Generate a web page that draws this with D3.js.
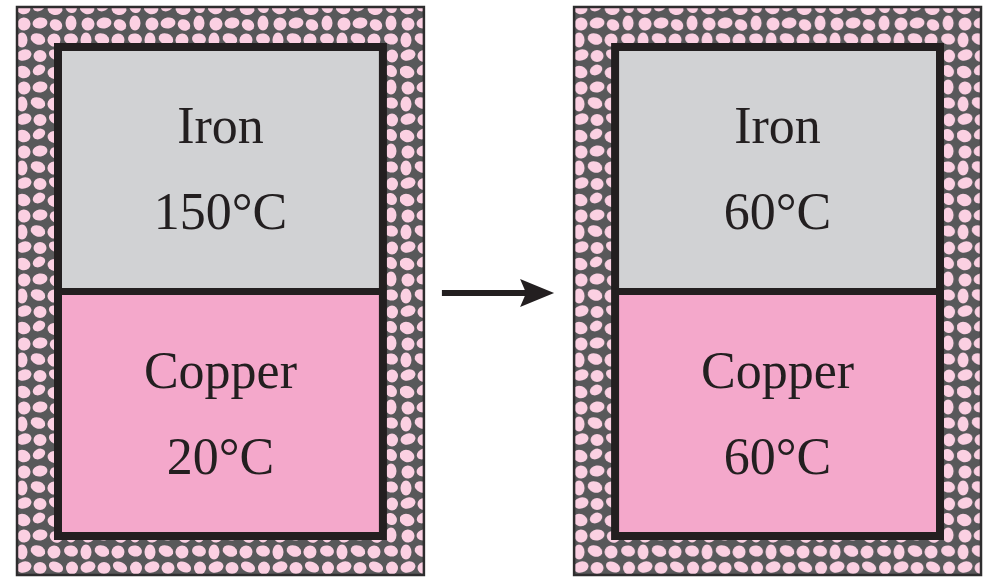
<!DOCTYPE html>
<html>
<head>
<meta charset="utf-8">
<script src="https://cdn.jsdelivr.net/npm/d3@7/dist/d3.min.js"></script>
<style>
  html, body { margin: 0; padding: 0; background: #fff; }
  svg { display: block; }
</style>
</head>
<body>
<svg id="chart" width="986" height="577"></svg>
<script>
// values
var panels = ["before", "after"];
var materials = ["Iron", "Copper"];
var tempsBefore = [150, 20];
var tempsAfter = [60, 60];
var temps = { before: tempsBefore, after: tempsAfter };

// insulation texture: pink blobs on dark grey (decoration only)
var tile = 64;
var blobs = [
  [7, 8, 7.5, 6, 20], [23, 6, 6.5, 5, -30], [39, 9, 7.5, 6, 10], [55, 7, 6.5, 5.5, 50],
  [8, 24, 6.5, 6.5, 40], [24, 23, 7.5, 5.5, -10], [40, 25, 6.5, 5.5, 30], [55, 23, 5.5, 7.5, 0],
  [6, 40, 5.5, 7.5, 0], [22, 39, 7.5, 5.5, 20], [38, 40, 6.5, 6.5, -20], [55, 39, 7, 5.5, 10],
  [8, 55, 7.5, 5.5, -15], [24, 56, 6.5, 6, 0], [40, 55, 7.5, 5, 25], [56, 56, 6, 6.5, 0]
];

var ink = "#231f20";
var fills = { Iron: "#d1d2d4", Copper: "#f4a8cb" };

var svg = d3.select("#chart");
var defs = svg.append("defs");
var pat = defs.append("pattern")
  .attr("id", "insul")
  .attr("patternUnits", "userSpaceOnUse")
  .attr("width", tile).attr("height", tile);
pat.append("rect").attr("width", tile).attr("height", tile).attr("fill", "#58585a");
pat.selectAll("ellipse").data(blobs).enter().append("ellipse")
  .attr("cx", function(d) { return d[0]; })
  .attr("cy", function(d) { return d[1]; })
  .attr("rx", function(d) { return d[2]; })
  .attr("ry", function(d) { return d[3]; })
  .attr("transform", function(d) { return "rotate(" + d[4] + "," + d[0] + "," + d[1] + ")"; })
  .attr("fill", "#fbd0e2");

var x = d3.scaleBand().domain(panels).range([16, 982]).paddingInner(0.266);
var bw = x.bandwidth();
var inset = 38;
var y = d3.scaleBand().domain(materials).range([47, 536]);

var g = svg.selectAll("g.panel").data(panels).enter().append("g")
  .attr("class", "panel")
  .attr("transform", function(d) { return "translate(" + x(d) + ",0)"; });

// insulating jacket
g.append("rect")
  .attr("x", 1).attr("y", 7)
  .attr("width", bw - 2).attr("height", 568)
  .attr("fill", "url(#insul)")
  .attr("stroke", "#2e2d2e").attr("stroke-width", 2.5);

// two blocks
g.selectAll("rect.block").data(function(p) {
  return materials.map(function(m, i) { return { panel: p, name: m, t: temps[p][i] }; });
}).enter().append("rect")
  .attr("class", "block")
  .attr("x", inset + 4).attr("y", function(d) { return y(d.name); })
  .attr("width", bw - 2 * inset - 8).attr("height", y.bandwidth())
  .attr("fill", function(d) { return fills[d.name]; });

// thick frame
g.append("rect")
  .attr("x", inset + 4).attr("y", y.range()[0])
  .attr("width", bw - 2 * inset - 8).attr("height", y.range()[1] - y.range()[0])
  .attr("fill", "none").attr("stroke", ink).attr("stroke-width", 8);

// divider
g.append("line")
  .attr("x1", inset + 4).attr("x2", bw - inset - 4)
  .attr("y1", y("Copper")).attr("y2", y("Copper"))
  .attr("stroke", ink).attr("stroke-width", 7);

// labels
var lab = g.selectAll("g.lab").data(function(p) {
  return materials.map(function(m, i) { return { name: m, t: temps[p][i] }; });
}).enter().append("g")
  .attr("class", "lab")
  .attr("transform", function(d) { return "translate(" + (bw / 2) + "," + y(d.name) + ")"; })
  .attr("font-family", "'Liberation Serif', 'Times New Roman', serif")
  .attr("font-size", 52)
  .attr("fill", ink)
  .attr("text-anchor", "middle");
lab.append("text").attr("y", 96).text(function(d) { return d.name; });
lab.append("text").attr("y", 182).text(function(d) { return d.t + "\u00b0C"; });

// arrow between panels
var ax0 = x("before") + bw + 17, ax1 = x("after") - 19, ay = 293;
svg.append("line")
  .attr("x1", ax0).attr("x2", ax1 - 28)
  .attr("y1", ay).attr("y2", ay)
  .attr("stroke", ink).attr("stroke-width", 6);
svg.append("path")
  .attr("d", "M" + ax1 + "," + ay + "L" + (ax1 - 34) + "," + (ay - 14) +
    "L" + (ax1 - 28) + "," + ay + "L" + (ax1 - 34) + "," + (ay + 14) + "Z")
  .attr("fill", ink);
</script>
</body>
</html>
